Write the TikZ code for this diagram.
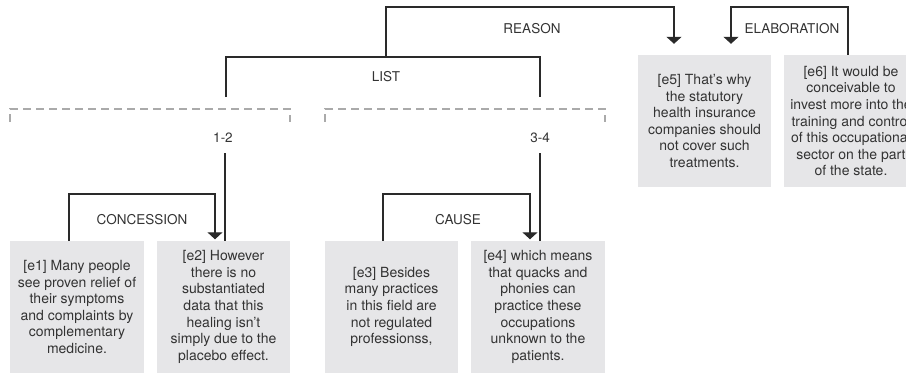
\documentclass[tikz,border=0pt]{standalone}
\usepackage{fontspec}
\setmainfont{TeX Gyre Heros}
\usetikzlibrary{arrows.meta}
\definecolor{boxfill}{HTML}{E6E6E8}
\definecolor{txt}{HTML}{333333}
\definecolor{linec}{HTML}{2A2A2A}
\definecolor{dashc}{HTML}{AAAAAA}
\begin{document}
\begin{tikzpicture}[x=1pt,y=-1pt,
  seg/.style={draw=linec, line width=1.1pt},
  arr/.style={seg, -{Triangle[width=15pt,length=7pt]}},
  edubox/.style={fill=boxfill, minimum width=134pt, minimum height=132pt, inner sep=0pt},
  edutext/.style={align=center, text=txt, inner sep=0pt, font=\fontsize{14}{16.6}\selectfont},
  edu/.style={edubox, edutext},
  rel/.style={text=txt, inner sep=0pt, font=\fontsize{13.5}{16}\selectfont},
  spanline/.style={draw=dashc, line width=1.5pt, dash pattern=on 8pt off 5pt}]
\useasboundingbox (0,0) rectangle (906,373);
\clip (0,0) rectangle (906,373);

% EDU boxes
\node[edu] (e1) at (77,307) {[e1] Many people\\see proven relief of\\their symptoms\\and complaints by\\complementary\\medicine.};
\node[edu, minimum width=133pt] (e2) at (223.5,307) {[e2] However\\there is no\\substantiated\\data that this\\healing isn't\\simply due to the\\placebo effect.};
\node[edu, minimum width=133pt] (e3) at (391.5,307) {[e3] Besides\\many practices\\in this field are\\not regulated\\professionss,};
\node[edu] (e4) at (538,307) {[e4] which means\\that quacks and\\phonies can\\practice these\\occupations\\unknown to the\\patients.};
\node[edu, minimum width=133pt] (e5) at (704.5,121) {[e5] That's why\\the statutory\\health insurance\\companies should\\not cover such\\treatments.};
\node[edubox] (e6) at (851,121) {};
\node[edutext] (e6t) at (e6) {[e6] It would be\\conceivable to\\invest more into the\\training and control\\of this occupational\\sector on the part\\of the state.};

% relation labels
\node[rel] (reason) at (532,29) {REASON};
\node[rel] (elab) at (792,29) {ELABORATION};
\node[rel] (list) at (386,77) {LIST};
\node[rel] (s12) at (223,138) {1-2};
\node[rel] (s34) at (540,138) {3-4};
\node[rel] (conc) at (142,220) {CONCESSION};
\node[rel] (cause) at (458,220) {CAUSE};

% span brackets (dashed)
\draw[spanline] (10,122) -- (10,109) -- (290,109) -- (290,122);
\draw[spanline] (325,122) -- (325,109) -- (605,109) -- (605,122);

% coordinates
\coordinate (listL) at (226,97);
\coordinate (listR) at (540,97);
\coordinate (listTL) at (226,57);
\coordinate (listTR) at (540,57);
\coordinate (listTop) at (386,57);
\coordinate (rsL) at (386,7);
\coordinate (rsR) at (674,7);
\coordinate (elR) at (848,7);
\coordinate (elL) at (731,7);
\coordinate (s12b) at (225,153);
\coordinate (s34b) at (540,153);
\coordinate (concL) at (69,194);
\coordinate (concR) at (215,194);
\coordinate (causeL) at (383,194);
\coordinate (causeR) at (530,194);

% LIST multinuclear relation
\draw[seg] (listL) -- (listTL) -- (listTR) -- (listR);
% REASON
\draw[arr, shorten >=11pt] (listTop) -- (rsL) -- (rsR) -- (rsR |- e5.north);
% ELABORATION
\draw[arr, shorten >=11pt] (elR |- e6.north) -- (elR) -- (elL) -- (elL |- e5.north);
% span verticals
\draw[seg] (s12b) -- (s12b |- e2.north);
\draw[seg] (s34b) -- (s34b |- e4.north);
% CONCESSION
\draw[arr, shorten >=1.5pt] (concL |- e1.north) -- (concL) -- (concR) -- (concR |- e2.north);
% CAUSE
\draw[arr, shorten >=1.5pt] (causeL |- e3.north) -- (causeL) -- (causeR) -- (causeR |- e4.north);
\end{tikzpicture}
\end{document}
